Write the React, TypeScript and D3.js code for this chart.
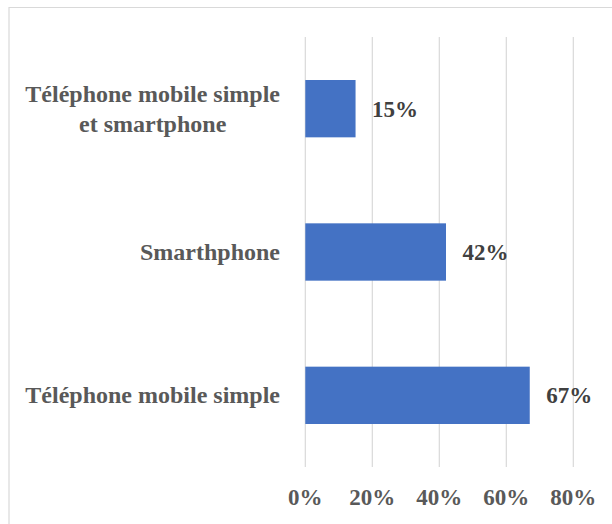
import React, { useEffect, useRef } from "react";
import * as d3 from "d3";

const categories = [
  ["Téléphone mobile simple", "et smartphone"],
  ["Smarthphone"],
  ["Téléphone mobile simple"],
];
const values = [0.15, 0.42, 0.67];
const ticks = [0, 0.2, 0.4, 0.6, 0.8];

const W = 612;
const H = 524;
const FONT = "'Liberation Serif', 'Times New Roman', serif";

export default function App() {
  const ref = useRef<SVGSVGElement>(null);

  useEffect(() => {
    const svg = d3.select(ref.current);
    svg.selectAll("*").remove();

    const x = d3.scaleLinear().domain([0, 0.8]).range([305.3, 573.3]);
    const keys = categories.map((c, i) => String(i));
    const y = d3
      .scaleBand()
      .domain(keys)
      .range([37, 467])
      .paddingInner(0.6)
      .paddingOuter(0.3);

    svg
      .append("rect")
      .attr("width", W)
      .attr("height", H)
      .attr("fill", "#fff");

    // chart border (cropped)
    svg
      .append("path")
      .attr("d", `M9,${H + 2}V7.5H${W + 2}`)
      .attr("fill", "none")
      .attr("stroke", "#d9d9d9")
      .attr("stroke-width", 1.2);

    // gridlines
    svg
      .append("g")
      .selectAll("line")
      .data(ticks)
      .join("line")
      .attr("x1", (d) => x(d))
      .attr("x2", (d) => x(d))
      .attr("y1", 37)
      .attr("y2", 467)
      .attr("stroke", "#d9d9d9")
      .attr("stroke-width", 1.2);

    // bars
    svg
      .append("g")
      .selectAll("rect")
      .data(values)
      .join("rect")
      .attr("x", x(0))
      .attr("y", (d, i) => y(String(i))!)
      .attr("width", (d) => x(d) - x(0))
      .attr("height", y.bandwidth())
      .attr("fill", "#4472c4");

    // value labels
    svg
      .append("g")
      .selectAll("text")
      .data(values)
      .join("text")
      .attr("x", (d) => x(d) + 16.5)
      .attr("y", (d, i) => y(String(i))! + y.bandwidth() / 2 + 8)
      .attr("font-family", FONT)
      .attr("font-weight", "bold")
      .attr("font-size", 23)
      .attr("fill", "#404040")
      .text((d) => `${Math.round(d * 100)}%`);

    // tick labels
    svg
      .append("g")
      .selectAll("text")
      .data(ticks)
      .join("text")
      .attr("x", (d) => x(d))
      .attr("y", 505)
      .attr("text-anchor", "middle")
      .attr("font-family", FONT)
      .attr("font-weight", "bold")
      .attr("font-size", 23)
      .attr("fill", "#595959")
      .text((d) => `${Math.round(d * 100)}%`);

    // category labels
    const right = 280;
    categories.forEach((lines, i) => {
      const cy = y(String(i))! + y.bandwidth() / 2;
      const g = svg.append("g");
      const lh = 30;
      const texts = lines.map((ln, j) =>
        g
          .append("text")
          .attr("y", cy + 8 + (j - (lines.length - 1) / 2) * lh)
          .attr("font-family", FONT)
          .attr("font-weight", "bold")
          .attr("font-size", 24)
          .attr("fill", "#595959")
          .text(ln)
      );
      const widths = texts.map(
        (t) => (t.node() as SVGTextElement).getComputedTextLength()
      );
      const maxW = Math.max(...widths);
      const center = right - maxW / 2;
      texts.forEach((t) => t.attr("x", center).attr("text-anchor", "middle"));
    });
  }, []);

  return (
    <div style={{ position: "fixed", left: 0, top: 0 }}>
      <svg ref={ref} width={W} height={H} style={{ display: "block" }} />
    </div>
  );
}
